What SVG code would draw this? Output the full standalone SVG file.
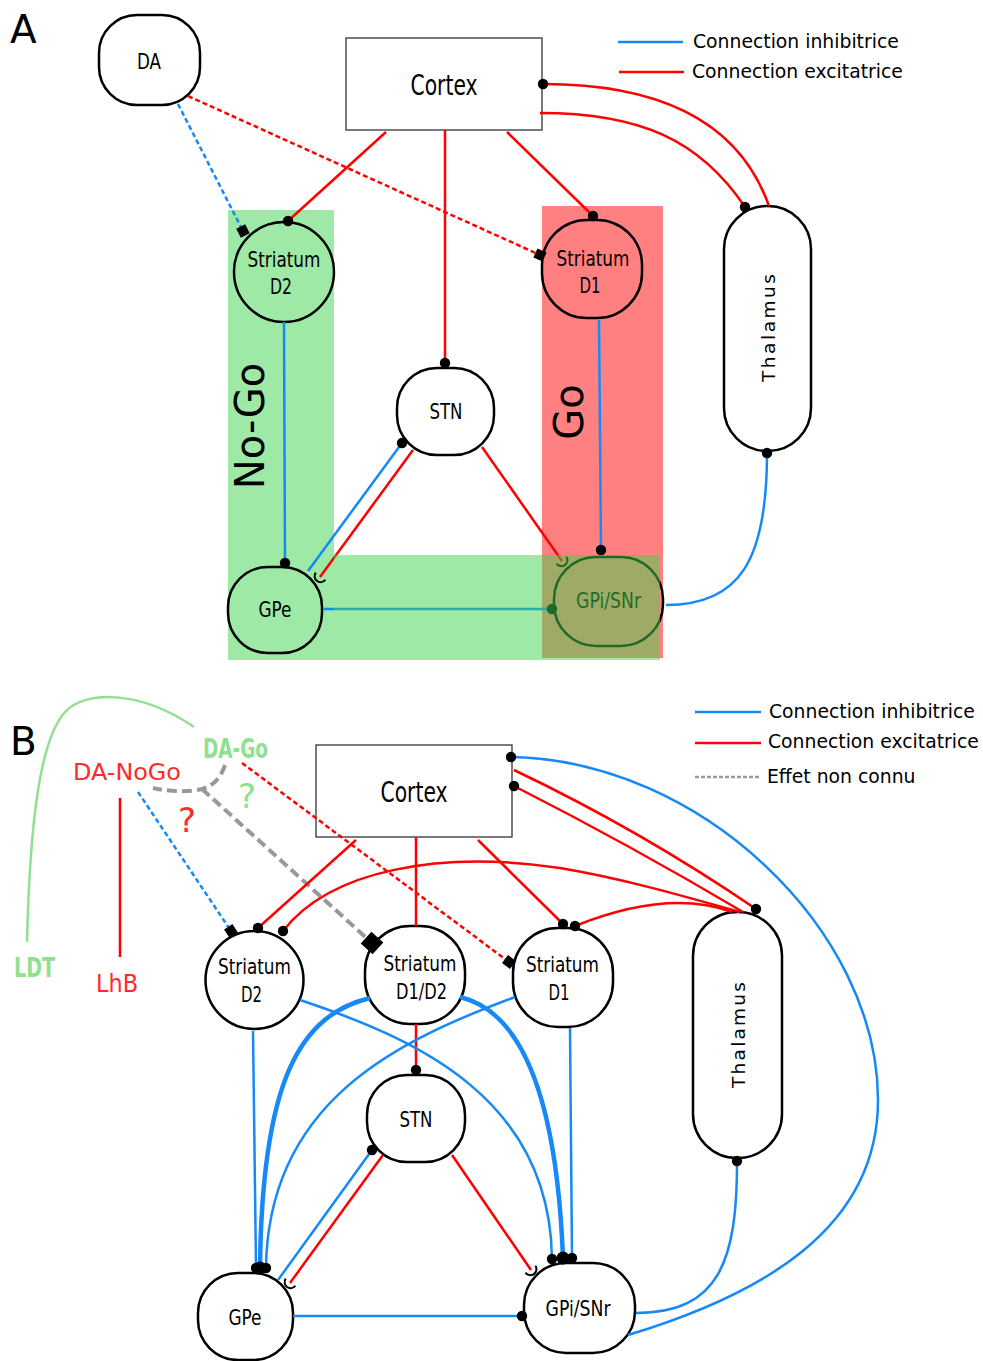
<svg xmlns="http://www.w3.org/2000/svg" width="983" height="1361" viewBox="0 0 983 1361">
<style>
.node{stroke:#000;stroke-width:2.5;fill:#fff}
.nf{fill:none}
.lbl{font-family:"DejaVu Sans Condensed","DejaVu Sans",sans-serif;font-stretch:condensed;font-size:21px;fill:#000;text-anchor:middle}
.leg{font-family:"DejaVu Sans",sans-serif;font-size:18.8px;fill:#000}
.big{font-family:"DejaVu Sans",sans-serif;font-size:39px;fill:#000}
.red{stroke:#ff0000;stroke-width:2.5;fill:none}
.blue{stroke:#1689f7;stroke-width:2.5;fill:none}
.thick{stroke:#1689f7;stroke-width:4.5;fill:none}
.rdash{stroke:#ff0000;stroke-width:2.5;fill:none;stroke-dasharray:5 3}
.bdash{stroke:#1689f7;stroke-width:2.5;fill:none;stroke-dasharray:5 3}
.gdash{stroke:#999;stroke-width:4;fill:none;stroke-dasharray:10 5}
.dot{marker-end:url(#dot)}
.sdot{marker-start:url(#dot)}
</style>
<defs>
<marker id="dot" markerUnits="userSpaceOnUse" markerWidth="12" markerHeight="12" viewBox="-6 -6 12 12" refX="0" refY="0"><circle r="5.2" fill="#000"/></marker>
<marker id="dotL" markerUnits="userSpaceOnUse" markerWidth="16" markerHeight="16" viewBox="-8 -8 16 16" refX="0" refY="0"><circle r="6.5" fill="#000"/></marker>
<marker id="sq" markerUnits="userSpaceOnUse" markerWidth="14" markerHeight="14" viewBox="-7 -7 14 14" refX="0" refY="0" orient="auto"><rect x="-5" y="-5" width="10" height="10" fill="#000"/></marker>
<marker id="sqL" markerUnits="userSpaceOnUse" markerWidth="20" markerHeight="20" viewBox="-10 -10 20 20" refX="0" refY="0" orient="auto"><rect x="-8" y="-8" width="16" height="16" fill="#000"/></marker>
<marker id="cup" markerUnits="userSpaceOnUse" markerWidth="18" markerHeight="18" viewBox="-9 -9 18 18" refX="0" refY="0" orient="auto"><path d="M-1,-6 A6,6 0 0 1 -1,6" fill="none" stroke="#000" stroke-width="2"/></marker>
</defs>
<rect width="983" height="1361" fill="#fff"/>

<!-- Panel A backgrounds -->
<g id="regionsA">
<rect x="228" y="210" width="106" height="450" fill="#9ee9a5"/>
<rect x="542" y="206" width="121" height="452" fill="#ff8080"/>
</g>

<text class="big" x="10" y="43">A</text>
<text class="big" x="10" y="755">B</text>

<!-- Legends -->
<g id="legendA">
<line x1="618" y1="42" x2="683" y2="42" stroke="#1689f7" stroke-width="2.5"/>
<text class="leg" x="693" y="48">Connection inhibitrice</text>
<line x1="619" y1="72" x2="684" y2="72" stroke="#ff0000" stroke-width="2.5"/>
<text class="leg" x="692" y="78">Connection excitatrice</text>
</g>
<g id="legendB">
<line x1="695" y1="712" x2="761" y2="712" stroke="#1689f7" stroke-width="2.5"/>
<text class="leg" x="769" y="718">Connection inhibitrice</text>
<line x1="695" y1="743" x2="761" y2="743" stroke="#ff0000" stroke-width="2.5"/>
<text class="leg" x="768" y="748">Connection excitatrice</text>
<line x1="695" y1="777" x2="761" y2="777" stroke="#999" stroke-width="2.5" stroke-dasharray="4 2"/>
<text class="leg" x="767" y="783">Effet non connu</text>
</g>

<!-- Rotated region labels A -->
<text font-family="DejaVu Sans,sans-serif" font-size="40" transform="translate(264,426) rotate(-90)" text-anchor="middle">No-Go</text>
<text font-family="DejaVu Sans,sans-serif" font-size="40" transform="translate(583,412) rotate(-90)" text-anchor="middle">Go</text>

<!-- Panel A nodes -->
<g id="A-DA"><rect class="node" x="99" y="15" width="101" height="90" rx="38"/><text class="lbl" x="149" y="69" style="font-size:22px" textLength="24" lengthAdjust="spacingAndGlyphs">DA</text></g>
<g id="A-Cortex"><rect x="346" y="38" width="196" height="92" fill="#fff" stroke="#333" stroke-width="1.3"/><text class="lbl" x="444" y="95" style="font-size:28px" textLength="67" lengthAdjust="spacingAndGlyphs">Cortex</text></g>
<g id="A-StriatumD2"><circle class="node nf" cx="284" cy="272" r="50"/><text class="lbl" x="284" y="267" textLength="73" lengthAdjust="spacingAndGlyphs">Striatum</text><text class="lbl" x="281" y="294" textLength="22" lengthAdjust="spacingAndGlyphs">D2</text></g>
<g id="A-StriatumD1"><rect class="node nf" x="542" y="220" width="100" height="98" rx="45" stroke="#7a0000"/><text class="lbl" x="593" y="266" textLength="73" lengthAdjust="spacingAndGlyphs">Striatum</text><text class="lbl" x="590" y="293" textLength="21" lengthAdjust="spacingAndGlyphs">D1</text></g>
<g id="A-Thalamus"><rect class="node" x="724" y="206" width="87" height="245" rx="43"/><text font-family="DejaVu Sans,sans-serif" font-size="18.5" text-anchor="middle" transform="translate(775,328) rotate(-90)" textLength="108" lengthAdjust="spacing">Thalamus</text></g>
<g id="A-STN"><rect class="node" x="397" y="368" width="97" height="87" rx="40"/><text class="lbl" x="446" y="419" textLength="33" lengthAdjust="spacingAndGlyphs">STN</text></g>
<g id="A-GPe"><rect class="node nf" x="228" y="567" width="94" height="86" rx="40"/><text class="lbl" x="275" y="617" textLength="33" lengthAdjust="spacingAndGlyphs">GPe</text></g>
<g id="A-GPi"><rect class="node nf" x="554" y="557" width="109" height="89" rx="42"/><text class="lbl" x="608.5" y="608" textLength="65" lengthAdjust="spacingAndGlyphs">GPi/SNr</text></g>

<!-- Panel A connectors -->
<g id="A-connectors">
<path class="bdash" d="M178,104 L243,231" marker-end="url(#sq)"/>
<path class="rdash" d="M188,96 L540,255" marker-end="url(#sq)"/>
<path class="red dot" d="M386,132 L288,221"/>
<path class="red dot" d="M445,130 L445,363"/>
<path class="red dot" d="M507,132 L593,216"/>
<path class="red sdot" d="M543,84 C640,84 735,110 769,206"/>
<path class="red dot" d="M540,113 C640,113 700,140 745,207"/>
<path class="blue dot" d="M284,322 L285,563"/>
<path class="blue dot" d="M599,320 L601,550"/>
<path class="blue dot" d="M308,571 L402,443"/>
<path class="red" d="M413,450 L320,577" marker-end="url(#cup)"/>
<path class="red" d="M482,447 L562,561" marker-end="url(#cup)"/>
<path class="blue dot" d="M323,609 L552,609"/>
<path class="blue sdot" d="M767,453 C767,560 740,605 666,605"/>
</g>

<!-- Panel A overlay -->
<g id="overlayA">
<rect x="334" y="555" width="326" height="105" fill="rgb(61,211,75)" fill-opacity="0.5"/>
</g>

<!-- Panel B labels (sources) -->
<g id="B-DA-Go"><text font-family="DejaVu Sans Condensed,DejaVu Sans,sans-serif" font-weight="bold" font-size="26" fill="#8fe08f" x="203" y="758" textLength="65" lengthAdjust="spacingAndGlyphs">DA-Go</text></g>
<g id="B-DA-NoGo"><text font-family="DejaVu Sans,sans-serif" font-size="23.5" fill="#ff2a2a" x="73" y="780" textLength="108" lengthAdjust="spacingAndGlyphs">DA-NoGo</text></g>
<g id="B-LDT"><text font-family="DejaVu Sans Condensed,DejaVu Sans,sans-serif" font-weight="bold" font-size="27" fill="#8fe08f" x="14" y="977" textLength="41" lengthAdjust="spacingAndGlyphs">LDT</text></g>
<g id="B-LhB"><text font-family="DejaVu Sans,sans-serif" font-size="24" fill="#ff2a2a" x="96" y="992" textLength="42" lengthAdjust="spacingAndGlyphs">LhB</text></g>
<text font-family="DejaVu Sans,sans-serif" font-size="34" fill="#ff2a2a" x="178" y="832">?</text>
<text font-family="DejaVu Sans,sans-serif" font-size="34" fill="#8fe08f" x="238" y="808">?</text>

<!-- Panel B nodes -->
<g id="B-Cortex"><rect x="316" y="745" width="196" height="92" fill="#fff" stroke="#333" stroke-width="1.3"/><text class="lbl" x="414" y="802" style="font-size:28px" textLength="67" lengthAdjust="spacingAndGlyphs">Cortex</text></g>
<g id="B-StriatumD2"><circle class="node" cx="254.5" cy="980" r="49"/><text class="lbl" x="254.5" y="974" textLength="73" lengthAdjust="spacingAndGlyphs">Striatum</text><text class="lbl" x="251.5" y="1002" textLength="21" lengthAdjust="spacingAndGlyphs">D2</text></g>
<g id="B-StriatumD1D2"><rect class="node" x="365" y="926" width="100" height="98" rx="45"/><text class="lbl" x="420" y="971" textLength="73" lengthAdjust="spacingAndGlyphs">Striatum</text><text class="lbl" x="421.5" y="999" textLength="51" lengthAdjust="spacingAndGlyphs">D1/D2</text></g>
<g id="B-StriatumD1"><rect class="node" x="513" y="928" width="100" height="99" rx="45"/><text class="lbl" x="562.5" y="972" textLength="73" lengthAdjust="spacingAndGlyphs">Striatum</text><text class="lbl" x="559" y="1000" textLength="21" lengthAdjust="spacingAndGlyphs">D1</text></g>
<g id="B-Thalamus"><rect class="node" x="693" y="912" width="89" height="246" rx="44"/><text font-family="DejaVu Sans,sans-serif" font-size="18.5" text-anchor="middle" transform="translate(745,1035) rotate(-90)" textLength="106" lengthAdjust="spacing">Thalamus</text></g>
<g id="B-STN"><rect class="node" x="367" y="1075" width="98" height="87" rx="40"/><text class="lbl" x="416" y="1127" textLength="33" lengthAdjust="spacingAndGlyphs">STN</text></g>
<g id="B-GPe"><rect class="node" x="198" y="1273" width="95" height="87" rx="40"/><text class="lbl" x="245" y="1325" textLength="33" lengthAdjust="spacingAndGlyphs">GPe</text></g>
<g id="B-GPi"><rect class="node" x="524" y="1263" width="111" height="90" rx="42"/><text class="lbl" x="578" y="1316" textLength="65" lengthAdjust="spacingAndGlyphs">GPi/SNr</text></g>

<!-- Panel B connectors -->
<g id="B-connectors">
<path d="M27,942 C30,820 40,740 65,712 C85,690 140,690 194,727" stroke="#90e090" stroke-width="2.5" fill="none"/>
<path class="red" d="M120,798 L120,957"/>
<path class="bdash" d="M138,792 L231,931" marker-end="url(#sq)"/>
<path class="rdash" d="M242,763 L509,962" marker-end="url(#sq)"/>
<path class="gdash" d="M225,765 C220,780 212,786 202,789 C190,792 170,792 153,788"/>
<path class="gdash" d="M202,789 L372,943" marker-end="url(#sqL)"/>
<path class="red dot" d="M356,840 L258,928"/>
<path class="red" d="M416,837 L416,926"/>
<path class="red dot" d="M416,1024 L416,1070"/>
<path class="red dot" d="M478,840 L563,924"/>
<path class="red dot" d="M740,912 C680,895 620,878 560,868 C440,850 330,870 283,931"/>
<path class="red dot" d="M732,912 C680,893 620,908 575,926"/>
<path class="red dot" d="M514,770 Q640,830 756,909"/>
<path class="red sdot" d="M514,786 Q630,845 743,912"/>
<path class="blue sdot" d="M511,757 C700,760 878,930 878,1100 C878,1230 760,1295 628,1335"/>
<path class="blue sdot" d="M737,1161 C737,1260 720,1313 636,1313"/>
<path class="blue dot" d="M253,1031 L256,1268"/>
<path class="blue dot" d="M300,1000 C420,1040 550,1100 552,1259"/>
<path class="blue dot" d="M515,997 C400,1040 268,1100 266,1268"/>
<path class="blue dot" d="M570,1028 L572,1258"/>
<path class="thick" d="M370,998 C300,1015 262,1080 260,1268" marker-end="url(#dotL)"/>
<path class="thick" d="M460,997 C515,1010 556,1080 563,1258" marker-end="url(#dotL)"/>
<path class="blue dot" d="M278,1280 L372,1150"/>
<path class="red" d="M383,1155 L290,1283" marker-end="url(#cup)"/>
<path class="red" d="M452,1155 L531,1270" marker-end="url(#cup)"/>
<path class="blue dot" d="M293,1316 L522,1316"/>
</g>
</svg>
